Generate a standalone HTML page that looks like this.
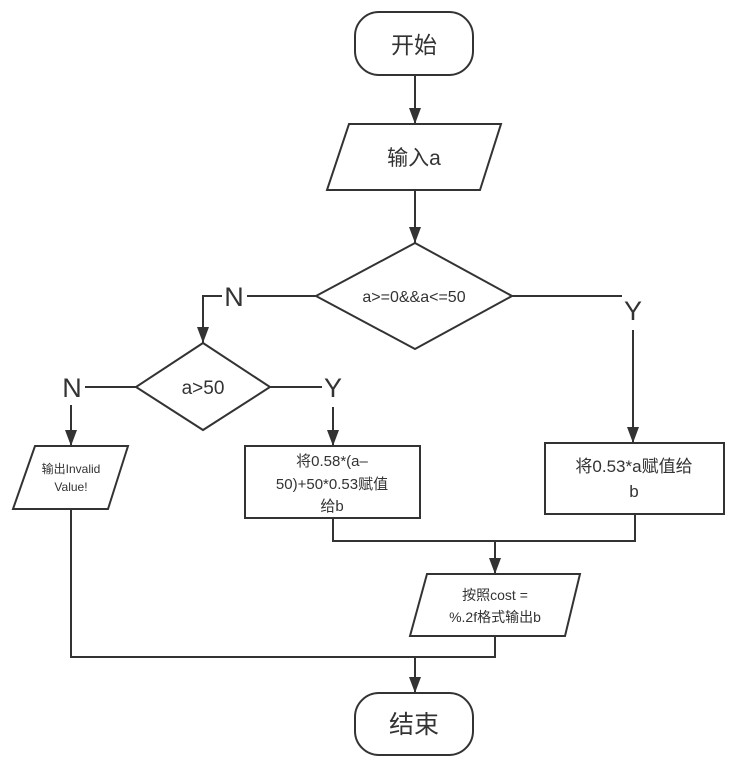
<!DOCTYPE html>
<html><head><meta charset="utf-8"><style>
body{margin:0;background:#fff}
svg text{font-family:"Liberation Sans","Noto Sans CJK SC",sans-serif;fill:#333;text-anchor:middle}
</style></head><body>
<svg width="741" height="766" viewBox="0 0 741 766" xmlns="http://www.w3.org/2000/svg">
<defs>
<marker id="ar" markerWidth="16" markerHeight="12" refX="16" refY="6" orient="auto" markerUnits="userSpaceOnUse"><path d="M0,0 L16,6 L0,12 Z" fill="#333"/></marker></defs>
<g stroke="#333" stroke-width="2" fill="none">
<rect x="355" y="12" width="118" height="63" rx="24"/>
<line x1="415" y1="75" x2="415" y2="124" marker-end="url(#ar)"/>
<polygon points="349,124 501,124 480,190 327,190"/>
<line x1="415" y1="190" x2="415" y2="243" marker-end="url(#ar)"/>
<polygon points="415,243 512,296 415,349 316,296"/>
<line x1="512" y1="296" x2="622" y2="296"/>
<line x1="633" y1="330" x2="633" y2="443" marker-end="url(#ar)"/>
<line x1="316" y1="296" x2="247" y2="296"/>
<polyline points="222,296 203,296 203,343" marker-end="url(#ar)"/>
<polygon points="203,343 270,387 203,430 136,387"/>
<line x1="136" y1="387" x2="85" y2="387"/>
<line x1="270" y1="387" x2="322" y2="387"/>
<line x1="71" y1="405" x2="71" y2="446" marker-end="url(#ar)"/>
<line x1="333" y1="407" x2="333" y2="446" marker-end="url(#ar)"/>
<polygon points="35,446 128,446 108,509 13,509"/>
<rect x="245" y="446" width="175" height="72"/>
<rect x="545" y="443" width="179" height="71"/>
<polyline points="333,518 333,541 635,541 635,514"/>
<line x1="495" y1="541" x2="495" y2="574" marker-end="url(#ar)"/>
<polygon points="427,574 580,574 565,636 410,636"/>
<polyline points="495,636 495,657 71,657 71,509"/>
<line x1="415" y1="657" x2="415" y2="693" marker-end="url(#ar)"/>
<rect x="355" y="693" width="118" height="62" rx="24"/>
</g>
<text x="414" y="53" font-size="23">开始</text>
<text x="414" y="165" font-size="21">输入a</text>
<text x="414" y="302" font-size="16">a&gt;=0&amp;&amp;a&lt;=50</text>
<text x="633" y="320" font-size="27">Y</text>
<text x="234" y="306" font-size="27">N</text>
<text x="203" y="394" font-size="19">a&gt;50</text>
<text x="72" y="397" font-size="27">N</text>
<text x="333" y="397" font-size="27">Y</text>
<text x="71" y="473" font-size="12">输出Invalid</text>
<text x="71" y="491" font-size="12">Value!</text>
<text x="332" y="466" font-size="15">将0.58*(a–</text>
<text x="332" y="489" font-size="15">50)+50*0.53赋值</text>
<text x="332" y="511" font-size="15">给b</text>
<text x="634" y="472" font-size="17">将0.53*a赋值给</text>
<text x="634" y="497" font-size="17">b</text>
<text x="495" y="600" font-size="14">按照cost =</text>
<text x="495" y="622" font-size="14">%.2f格式输出b</text>
<text x="414" y="733" font-size="25">结束</text>
</svg>
</body></html>
